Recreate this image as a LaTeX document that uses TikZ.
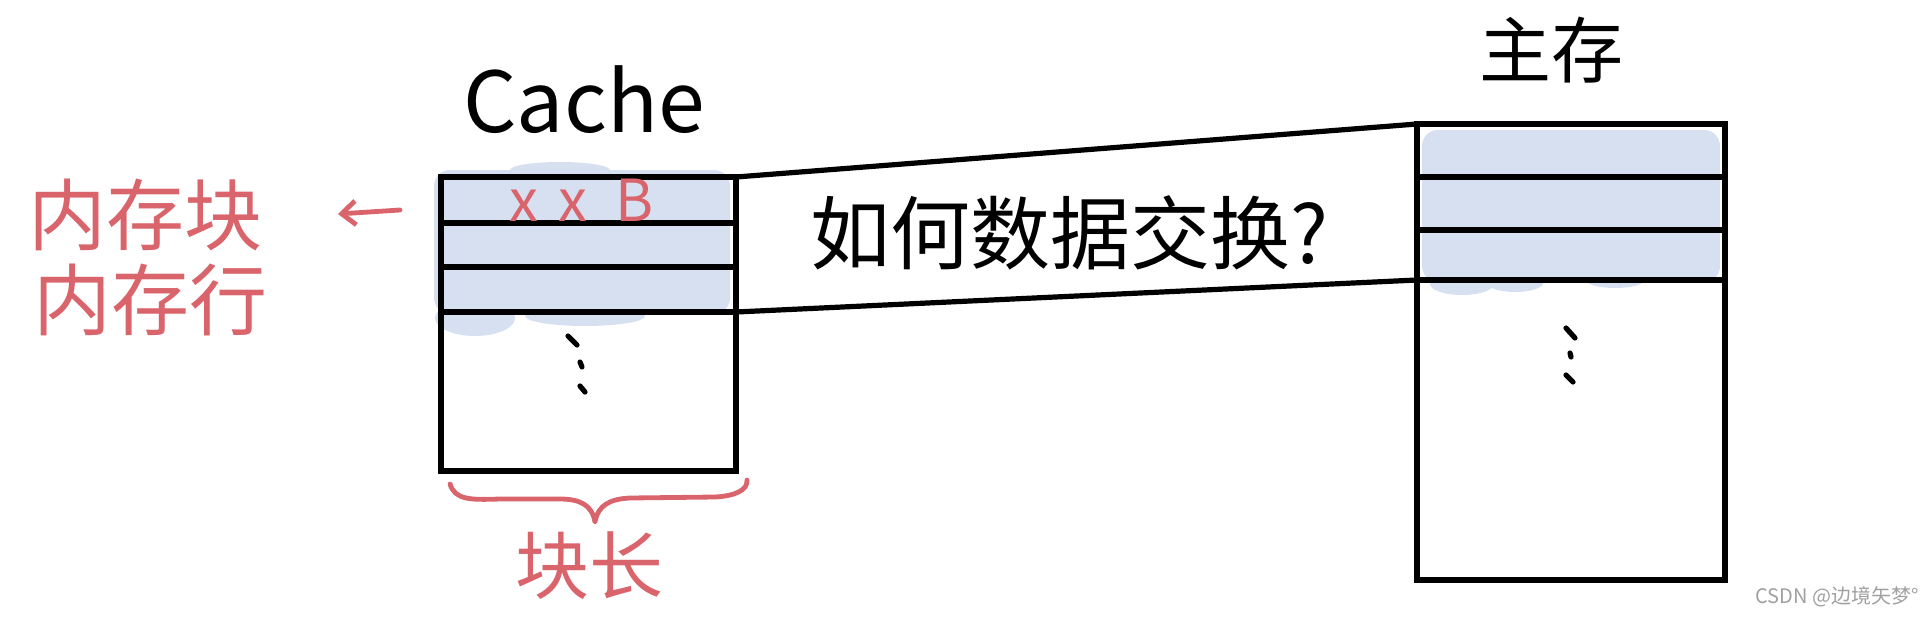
\documentclass[tikz,border=0pt]{standalone}
\usepackage{fontspec}
\newfontfamily\cjk{Noto Sans CJK SC}
\usetikzlibrary{arrows.meta}
\definecolor{hred}{HTML}{D9646C}
\definecolor{hblue}{HTML}{D6E0F0}
\definecolor{wmgray}{HTML}{A0A0A0}
\begin{document}
\begin{tikzpicture}[x=0.5pt,y=-0.5pt,
  ink/.style={line width=2.6pt, draw=black, line cap=round, line join=round},
  box/.style={draw=black, line width=2.6pt, rectangle, inner sep=0pt, outer sep=0pt},
  redink/.style={draw=hred, line width=2.4pt, line cap=round, line join=round},
  redtxt/.style={text=hred, font=\cjk\fontsize{39}{42}\selectfont, inner sep=0pt},
  blktxt/.style={text=black, font=\cjk\fontsize{36}{40}\selectfont, inner sep=0pt},
  wmtxt/.style={text=wmgray, font=\cjk\fontsize{10}{12}\selectfont, inner sep=0pt}]
\useasboundingbox (0,0) rectangle (1927,616);
% blue highlighter shading
\fill[hblue, rounded corners=8pt] (434,170) rectangle (730,314);
\fill[hblue] (475,318) ellipse (40 and 18);
\fill[hblue] (585,316) ellipse (60 and 10);
\fill[hblue] (560,170) ellipse (50 and 8);
\fill[hblue, rounded corners=8pt] (1422,130) rectangle (1720,282);
\fill[hblue] (1462,284) ellipse (32 and 11);
\fill[hblue] (1515,283) ellipse (28 and 9);
\fill[hblue] (1615,281) ellipse (28 and 7);
% boxes
\node[box, minimum width=147.5pt, minimum height=147pt, anchor=north west] (cache) at (441,177) {};
\node[box, minimum width=154pt, minimum height=228pt, anchor=north west] (mem) at (1417,124) {};
% rows
\draw[ink] (441,223) -- (736,223);
\draw[ink] (441,267) -- (736,267);
\draw[ink] (441,312) -- (736,312);
\draw[ink] (1417,177) -- (1725,177);
\draw[ink] (1417,230) -- (1725,230);
\draw[ink] (1417,280) -- (1725,280);
% connectors
\coordinate (c3) at (736,312);
\coordinate (m3) at (1417,280);
\draw[ink] (cache.north east) -- (mem.north west);
\draw[ink] (c3) -- (m3);
% dots
\draw[ink] (568,336) -- (577,345);
\draw[ink] (580,362) -- (582,367);
\draw[ink] (580,386) -- (585,392);
\draw[ink] (1566,328) -- (1575,338);
\draw[ink] (1570,353) -- (1571,357);
\draw[ink] (1566,375) -- (1573,382);
% labels
\node[blktxt, font=\cjk\fontsize{42}{46}\selectfont] (cachelbl) at (584,100) {Cache};
\node[blktxt] (memlbl) at (1551,50) {主存};
\node[blktxt, font=\cjk\fontsize{40}{44}\selectfont] (q) at (1069,233) {如何数据交换?};
\node[redtxt] (blk) at (145,215) {内存块};
\node[redtxt] (row) at (150,300) {内存行};
\node[redtxt, font=\cjk\fontsize{29}{32}\selectfont] (xxb) at (582,200) {x\,\,x\,\,\,B};
\node[redtxt, font=\cjk\fontsize{37}{40}\selectfont] (len) at (589,566) {块长};
\node[wmtxt] (wm) at (1837,597) {CSDN @边境矢梦°};
% arrow
\coordinate (arrS) at (400,210);
\coordinate (arrE) at (338,214);
\draw[redink, -{Straight Barb[length=7pt,width=12pt]}] (arrS) -- (arrE);
% brace
\draw[redink] (450,484) .. controls (455,500) and (470,500) .. (500,499) -- (560,499)
  .. controls (580,499) and (592,505) .. (595,522)
  .. controls (598,505) and (610,499) .. (630,498) -- (715,497)
  .. controls (735,496) and (748,490) .. (747,480);
\end{tikzpicture}
\end{document}
